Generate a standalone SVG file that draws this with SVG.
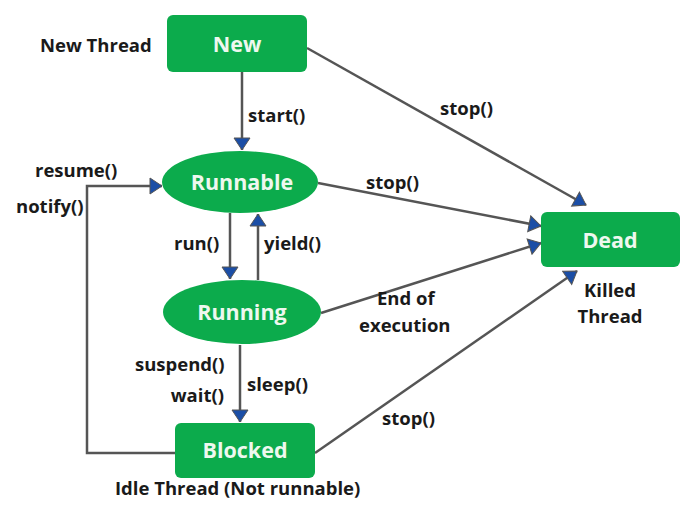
<svg xmlns="http://www.w3.org/2000/svg" width="692" height="517" viewBox="0 0 692 517">
<defs>
<style>
.node{fill:#0cab4c;}
.nt{font-family:"Open Sans","Liberation Sans",sans-serif;font-weight:bold;font-size:21.5px;fill:#eef8ef;text-anchor:middle;}
.lb{font-family:"Open Sans","Liberation Sans",sans-serif;font-weight:bold;font-size:18.5px;fill:#1a1a1a;}
.cn{fill:none;stroke:#555;stroke-width:2.5;}
</style>
<marker id="ah" markerUnits="userSpaceOnUse" markerWidth="14" markerHeight="18" viewBox="0 0 14 18" refX="13" refY="9" orient="auto">
<path d="M1,1 L13,9 L1,17 z" fill="#1b4ea6" stroke="#555" stroke-width="1"/>
</marker>
</defs>
<rect width="692" height="517" fill="#ffffff"/>
<g id="connectors">
<path class="cn" d="M242,72 L242,150" marker-end="url(#ah)"/>
<path class="cn" d="M307,48 L586,205" marker-end="url(#ah)"/>
<path class="cn" d="M318,183 L541,226" marker-end="url(#ah)"/>
<path class="cn" d="M321,313 L541,243" marker-end="url(#ah)"/>
<path class="cn" d="M315,453 L577,271" marker-end="url(#ah)"/>
<path class="cn" d="M230,213 L230,279" marker-end="url(#ah)"/>
<path class="cn" d="M258,280 L258,214" marker-end="url(#ah)"/>
<path class="cn" d="M240,345 L240,422" marker-end="url(#ah)"/>
<path class="cn" d="M175,453 L87,453 L87,186 L162,186" marker-end="url(#ah)"/>
</g>
<g id="new">
<rect class="node" x="167" y="15" width="140" height="57" rx="6"/>
<text class="nt" x="237" y="52">New</text>
</g>
<g id="runnable">
<ellipse class="node" cx="240" cy="182" rx="78" ry="31"/>
<text class="nt" x="242" y="190">Runnable</text>
</g>
<g id="running">
<ellipse class="node" cx="242" cy="312" rx="79" ry="32"/>
<text class="nt" x="242" y="320">Running</text>
</g>
<g id="blocked">
<rect class="node" x="175" y="423" width="140" height="55" rx="6"/>
<text class="nt" x="245" y="458">Blocked</text>
</g>
<g id="dead">
<rect class="node" x="541" y="212" width="139" height="55" rx="6"/>
<text class="nt" x="610" y="248">Dead</text>
</g>
<g id="labels">
<text class="lb" x="40" y="52">New Thread</text>
<text class="lb" x="248" y="122">start()</text>
<text class="lb" x="440" y="115">stop()</text>
<text class="lb" x="35" y="177">resume()</text>
<text class="lb" x="16" y="213">notify()</text>
<text class="lb" x="366" y="189">stop()</text>
<text class="lb" x="174" y="250">run()</text>
<text class="lb" x="264" y="250">yield()</text>
<text class="lb" x="377" y="305">End of</text>
<text class="lb" x="359" y="332">execution</text>
<text class="lb" x="610" y="297" text-anchor="middle">Killed</text>
<text class="lb" x="610" y="323" text-anchor="middle">Thread</text>
<text class="lb" x="135" y="371">suspend()</text>
<text class="lb" x="224" y="402" text-anchor="end">wait()</text>
<text class="lb" x="247" y="391">sleep()</text>
<text class="lb" x="382" y="425">stop()</text>
<text class="lb" x="115" y="495">Idle Thread (Not runnable)</text>
</g>
</svg>
